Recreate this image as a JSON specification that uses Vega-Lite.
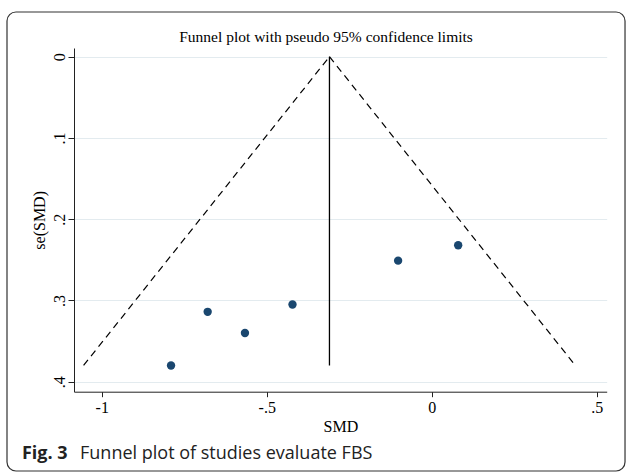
{
  "$schema": "https://vega.github.io/schema/vega-lite/v6.json",
  "width": 532.7,
  "height": 343.7,
  "autosize": "none",
  "padding": {"left": 74, "top": 48, "right": 22.3, "bottom": 82.3},
  "background": "white",
  "config": {
    "view": {"stroke": null},
    "axis": {
      "domainColor": "#222",
      "tickColor": "#222",
      "labelColor": "black",
      "titleColor": "black",
      "labelFont": "Liberation Serif",
      "titleFont": "Liberation Serif",
      "labelFontSize": 16,
      "titleFontSize": 16,
      "titleFontWeight": "normal"
    }
  },
  "datasets": {
    "studies": [
      {"smd": -0.79, "se": 0.38},
      {"smd": -0.679, "se": 0.314},
      {"smd": -0.566, "se": 0.34},
      {"smd": -0.422, "se": 0.305},
      {"smd": -0.102, "se": 0.251},
      {"smd": 0.08, "se": 0.232}
    ],
    "limits": [
      {"limit": "lower", "smd": -0.31, "se": 0},
      {"limit": "lower", "smd": -1.055, "se": 0.38},
      {"limit": "upper", "smd": -0.31, "se": 0},
      {"limit": "upper", "smd": 0.435, "se": 0.38}
    ],
    "pooled": [
      {"smd": -0.31, "se": 0, "se_max": 0.38}
    ],
    "texts": [
      {"part": "title", "text": "Funnel plot with pseudo 95% confidence limits"},
      {"part": "bold", "text": "Fig. 3"},
      {"part": "regular", "text": "Funnel plot of studies evaluate FBS"}
    ]
  },
  "layer": [
    {
      "data": {"name": "studies"},
      "mark": {"type": "circle", "size": 70, "color": "#1a476f", "opacity": 1},
      "encoding": {
        "x": {
          "field": "smd",
          "type": "quantitative",
          "scale": {"domain": [-1.084, 0.53], "nice": false, "zero": false},
          "axis": {
            "values": [-1, -0.5, 0, 0.5],
            "labelExpr": "datum.value == 0 ? '0' : replace(toString(datum.value), '0.', '.')",
            "grid": false,
            "tickSize": 5,
            "labelPadding": 3,
            "title": "SMD",
            "titlePadding": 3
          }
        },
        "y": {
          "field": "se",
          "type": "quantitative",
          "scale": {"domain": [-0.0107, 0.4123], "nice": false, "zero": false, "reverse": true},
          "axis": {
            "values": [0, 0.1, 0.2, 0.3, 0.4],
            "labelExpr": "datum.value == 0 ? '0' : replace(toString(datum.value), '0.', '.')",
            "grid": true,
            "gridColor": "#e3ebef",
            "gridWidth": 1,
            "tickSize": 6,
            "labelAngle": 270,
            "labelAlign": "center",
            "labelBaseline": "bottom",
            "labelPadding": 1,
            "title": "se(SMD)",
            "titlePadding": 4
          }
        }
      }
    },
    {
      "data": {"name": "limits"},
      "mark": {"type": "line", "color": "black", "strokeWidth": 1.2, "strokeDash": [7, 5]},
      "encoding": {
        "x": {"field": "smd", "type": "quantitative"},
        "y": {"field": "se", "type": "quantitative"},
        "detail": {"field": "limit"}
      }
    },
    {
      "data": {"name": "pooled"},
      "mark": {"type": "rule", "color": "black", "strokeWidth": 1.3},
      "encoding": {
        "x": {"field": "smd", "type": "quantitative"},
        "y": {"field": "se", "type": "quantitative"},
        "y2": {"field": "se_max"}
      }
    },
    {
      "data": {"values": [{"frame": "outer"}]},
      "mark": {"type": "rect", "fillOpacity": 0, "stroke": "#333", "strokeWidth": 1.2, "cornerRadius": 9},
      "encoding": {
        "x": {"datum": -1.287, "type": "quantitative"},
        "x2": {"datum": 0.5855},
        "y": {"datum": -0.055, "type": "quantitative"},
        "y2": {"datum": 0.5099}
      }
    },
    {
      "data": {"name": "texts"},
      "transform": [{"filter": "datum.part == 'title'"}],
      "mark": {"type": "text", "font": "Liberation Serif", "fontSize": 15.5, "align": "center", "baseline": "alphabetic", "color": "black"},
      "encoding": {
        "x": {"datum": -0.3204, "type": "quantitative"},
        "y": {"datum": -0.0185, "type": "quantitative"},
        "text": {"field": "text"}
      }
    },
    {
      "data": {"name": "texts"},
      "transform": [{"filter": "datum.part == 'bold'"}],
      "mark": {"type": "text", "font": "Open Sans", "fontSize": 18, "fontWeight": "bold", "align": "left", "baseline": "alphabetic", "color": "#222"},
      "encoding": {
        "x": {"datum": -1.2416, "type": "quantitative"},
        "y": {"datum": 0.4951, "type": "quantitative"},
        "text": {"field": "text"}
      }
    },
    {
      "data": {"name": "texts"},
      "transform": [{"filter": "datum.part == 'regular'"}],
      "mark": {"type": "text", "font": "Open Sans", "fontSize": 18, "align": "left", "baseline": "alphabetic", "color": "#222"},
      "encoding": {
        "x": {"datum": -1.0658, "type": "quantitative"},
        "y": {"datum": 0.4951, "type": "quantitative"},
        "text": {"field": "text"}
      }
    }
  ]
}
